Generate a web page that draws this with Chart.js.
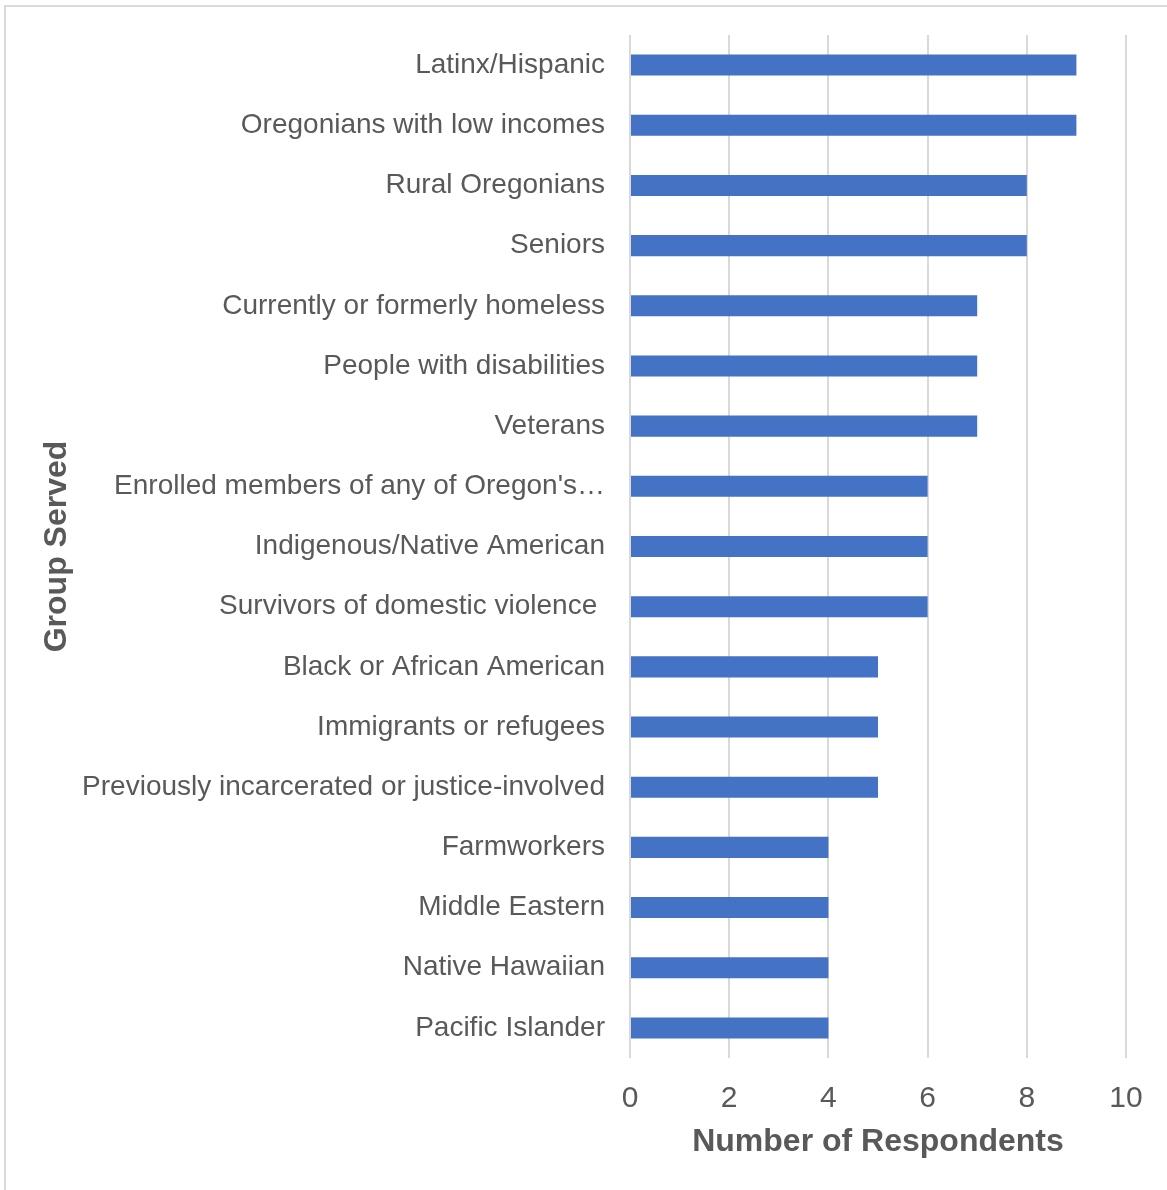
<!DOCTYPE html>
<html>
<head>
<meta charset="utf-8">
<title>Group Served</title>
<script src="https://cdn.jsdelivr.net/npm/chart.js@4/dist/chart.umd.min.js"></script>
<style>
  html, body { margin: 0; padding: 0; background: #fff; overflow: hidden; }
  #frame {
    position: absolute; left: 4px; top: 5px;
    width: 1300px; height: 1300px;
    border: 2px solid #d9d9d9;
  }
  #chart { position: absolute; left: 0; top: 0; }
</style>
</head>
<body>
<div id="frame"></div>
<canvas id="chart" width="1167" height="1190"></canvas>
<script>
// Groups served and how many respondents serve each one
const groups = [
    'Latinx/Hispanic',
    'Oregonians with low incomes',
    'Rural Oregonians',
    'Seniors',
    'Currently or formerly homeless',
    'People with disabilities',
    'Veterans',
    "Enrolled members of any of Oregon's\u2026",
    'Indigenous/Native American',
    'Survivors of domestic violence ',
    'Black or African American',
    'Immigrants or refugees',
    'Previously incarcerated or justice-involved',
    'Farmworkers',
    'Middle Eastern',
    'Native Hawaiian',
    'Pacific Islander'
];
const respondents = [9, 9, 8, 8, 7, 7, 7, 6, 6, 6, 5, 5, 5, 4, 4, 4, 4];

const xMin = 0;
const xMax = 10;
const xStep = 2;

const textColor = '#595959';
const fontFamily = '"Liberation Sans", Arial, sans-serif';

const ctx = document.getElementById('chart').getContext('2d');
new Chart(ctx, {
    type: 'bar',
    data: {
        labels: groups,
        datasets: [
            {
                data: respondents,
                backgroundColor: '#4472C4',
                borderWidth: 0,
                barPercentage: 0.35,
                categoryPercentage: 1.0,
            },
        ],
    },
    options: {
        indexAxis: 'y',
        responsive: false,
        animation: false,
        layout: { padding: { top: 35, right: 41, bottom: 0, left: 0 } },
        plugins: {
            legend: { display: false },
            tooltip: { enabled: false },
        },
        scales: {
            x: {
                min: xMin,
                max: xMax,
                ticks: {
                    stepSize: xStep,
                    padding: 23,
                    color: textColor,
                    font: { family: fontFamily, size: 30 },
                },
                grid: { color: '#d9d9d9', lineWidth: 2, drawTicks: false },
                border: { display: false },
                title: {
                    display: true,
                    text: 'Number of Respondents',
                    color: textColor,
                    font: { family: fontFamily, size: 32, weight: 'bold' },
                    padding: { top: 0, bottom: 29 },
                },
                afterFit: (scale) => { scale.height = 132; },
            },
            y: {
                ticks: {
                    padding: 25,
                    color: textColor,
                    font: { family: fontFamily, size: 28 },
                    autoSkip: false,
                },
                grid: { display: false, drawTicks: false },
                border: { display: false },
                title: {
                    display: true,
                    text: 'Group Served',
                    color: textColor,
                    font: { family: fontFamily, size: 32, weight: 'bold' },
                    padding: { top: 38, bottom: 0 },
                },
                afterFit: (scale) => {
                    // fixed label column; the layout padding sets the top edge
                    scale.width = 630;
                    scale.paddingTop = 0;
                    scale.paddingBottom = 0;
                },
            },
        },
    },
});
</script>
</body>
</html>
